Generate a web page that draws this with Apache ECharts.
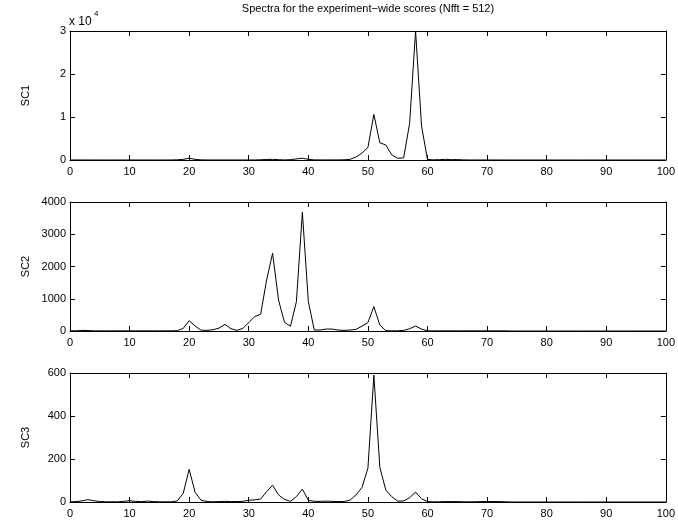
<!DOCTYPE html>
<html><head><meta charset="utf-8">
<script src="https://cdn.jsdelivr.net/npm/echarts@6/dist/echarts.min.js"></script>
<style>html,body{margin:0;padding:0;background:#fff}#c{width:678px;height:523px}</style>
</head><body><div id="c"></div>
<script>
const freq = [0,1,2,3,4,5,6,7,8,9,10,11,12,13,14,15,16,17,18,19,20,21,22,23,24,25,26,27,28,29,30,31,32,33,34,35,36,37,38,39,40,41,42,43,44,45,46,47,48,49,50,51,52,53,54,55,56,57,58,59,60,61,62,63,64,65,66,67,68,69,70,71,72,73,74,75,76,77,78,79,80,81,82,83,84,85,86,87,88,89,90,91,92,93,94,95,96,97,98,99,100];
const sc1 = [10,5,10,10,5,5,5,5,5,5,10,5,5,5,5,5,5,10,50,150,400,150,30,10,10,10,10,10,10,10,10,10,60,120,150,80,20,80,250,400,150,30,20,20,20,20,50,150,700,1600,2900,10600,4000,3500,1200,400,500,8500,30000,7900,100,50,80,150,80,100,30,10,10,10,10,5,5,5,0,0,0,0,0,0,0,0,0,0,0,0,0,0,0,0,0,0,0,0,0,0,0,0,0,0,0];
const sc2 = [10,5,20,15,5,5,5,5,5,5,5,5,5,5,5,5,5,5,10,80,320,155,25,20,40,90,205,70,20,80,260,450,520,1580,2410,960,270,145,910,3680,910,30,30,60,60,30,20,30,50,150,260,755,185,10,5,5,20,70,155,60,5,5,5,5,5,5,5,5,5,5,5,5,5,5,0,0,0,0,0,0,0,0,0,0,0,0,0,0,0,0,0,0,0,0,0,0,0,0,0,0,0];
const sc3 = [1,2,5,11,6,2,1,1,1,3,6,3,2,4,2,1,1,1,5,40,152,45,8,2,1,2,3,2,2,3,8,10,14,48,78,33,12,3,25,60,8,3,3,4,3,2,2,9,33,67,157,590,161,56,25,4,5,20,46,15,2,1,1,2,2,2,1,1,1,2,2,2,2,1,0,0,0,0,0,0,0,0,0,0,0,0,0,0,0,0,0,0,0,0,0,0,0,0,0,0,0];
const names = ['SC1','SC2','SC3'];
const yMax = [30000,4000,600];
const yInterval = [10000,1000,200];
const xTicks = [0,10,20,30,40,50,60,70,80,90,100];
const titleText = 'Spectra for the experiment\u2212wide scores (Nfft = 512)';
const expBase = 'x 10';
const expPow = '4';

const FONT = 'Liberation Sans, Arial, Helvetica, sans-serif';
const series = [sc1, sc2, sc3];
const tops = [31, 202, 373];
const H = 129;
const grids = [], xAxes = [], yAxes = [], ser = [], gfx = [];
const lineStyle = {color:'#000', width:1};
for (let i = 0; i < 3; i++) {
  grids.push({left:70, right:12, top:tops[i], height:H, containLabel:false});
  const xb = {type:'value', gridIndex:i, min:xTicks[0], max:xTicks[xTicks.length-1], interval:10,
    axisLine:{show:true, onZero:false, lineStyle}, axisTick:{show:true, inside:true, length:5, lineStyle},
    splitLine:{show:false}};
  xAxes.push(Object.assign({}, xb, {position:'bottom',
    axisLabel:{show:true, color:'#000', fontSize:11, margin:6, fontFamily:FONT}}));
  xAxes.push(Object.assign({}, xb, {position:'top', axisLabel:{show:false}}));
  const yb = {type:'value', gridIndex:i, min:0, max:yMax[i], interval:yInterval[i],
    axisLine:{show:true, onZero:false, lineStyle}, axisTick:{show:true, inside:true, length:5, lineStyle},
    splitLine:{show:false}};
  yAxes.push(Object.assign({}, yb, {position:'left',
    axisLabel:{show:true, color:'#000', fontSize:11, margin:4, fontFamily:FONT,
      formatter: i === 0 ? (v => String(v/10000)) : (v => String(v))}}));
  yAxes.push(Object.assign({}, yb, {position:'right', axisLabel:{show:false}}));
  ser.push({type:'line', xAxisIndex:2*i, yAxisIndex:2*i, data:freq.map((f,k)=>[f, series[i][k]]),
    showSymbol:false, symbol:'none', lineStyle:{color:'#000', width:1}, clip:true, silent:true});
  gfx.push({type:'text', x:26, y:tops[i] + H/2, rotation:Math.PI/2, silent:true,
    style:{text:names[i], fill:'#000', font:'11px ' + FONT, textAlign:'center', textVerticalAlign:'middle'}});
}
gfx.push({type:'text', x:69, y:22, silent:true,
  style:{text:expBase, fill:'#000', font:'12px ' + FONT, textAlign:'left', textVerticalAlign:'middle'}});
gfx.push({type:'text', x:94, y:14, silent:true,
  style:{text:expPow, fill:'#000', font:'8px ' + FONT, textAlign:'left', textVerticalAlign:'middle'}});
gfx.push({type:'text', x:368, y:9, silent:true,
  style:{text:titleText, fill:'#000', font:'11px ' + FONT, textAlign:'center', textVerticalAlign:'middle'}});

const chart = echarts.init(document.getElementById('c'), null, {renderer:'canvas'});
chart.setOption({
  animation:false,
  backgroundColor:'#fff',
  grid:grids, xAxis:xAxes, yAxis:yAxes, series:ser, graphic:gfx
});
</script></body></html>
